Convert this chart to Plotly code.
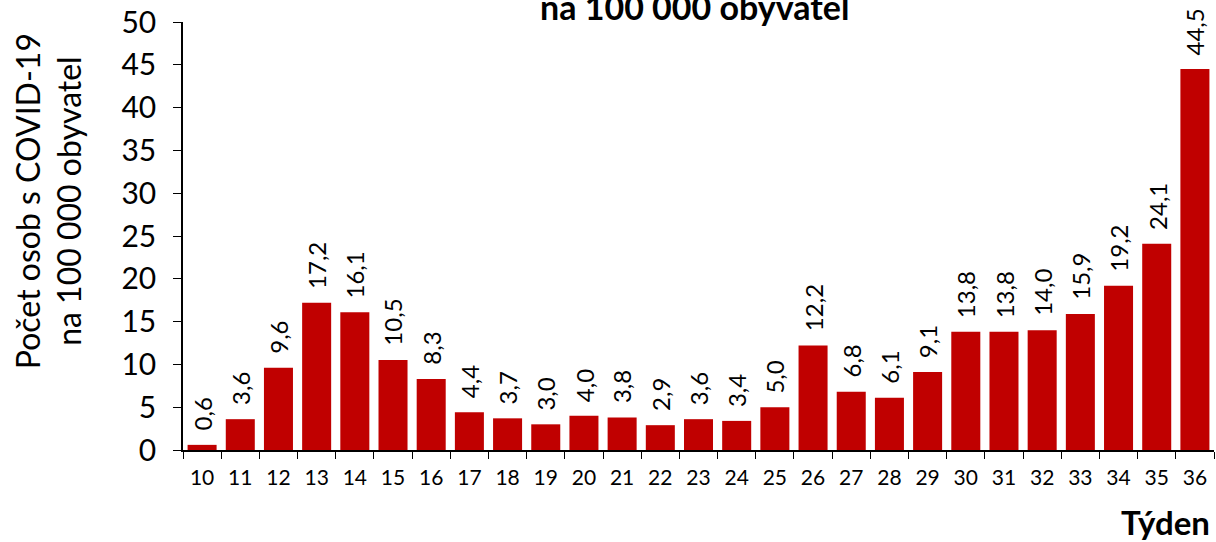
import plotly.graph_objects as go

weeks = ["10","11","12","13","14","15","16","17","18","19","20","21","22","23","24","25","26","27","28","29","30","31","32","33","34","35","36"]
values = [0.6,3.6,9.6,17.2,16.1,10.5,8.3,4.4,3.7,3.0,4.0,3.8,2.9,3.6,3.4,5.0,12.2,6.8,6.1,9.1,13.8,13.8,14.0,15.9,19.2,24.1,44.5]
labels = [f"{v:.1f}".replace(".", ",") for v in values]

FONT = "Lato, Open Sans, sans-serif"
W, H = 1216, 542
L, R, T, B = 183, 2, 20, 92

fig = go.Figure(go.Bar(
    x=weeks, y=values,
    marker=dict(color="#C00000", line=dict(width=0)),
    hoverinfo="x+y",
))
# category axis: annotation x is the category index
for i, (v, lab) in enumerate(zip(values, labels)):
    fig.add_annotation(x=i, y=v, xref="x", yref="y", text=lab, textangle=-90,
                       showarrow=False, xanchor="center", yanchor="bottom", yshift=12,
                       font=dict(size=24, family=FONT, color="black"))
fig.update_layout(
    width=W, height=H, margin=dict(l=L, r=R, t=T, b=B),
    plot_bgcolor="white", paper_bgcolor="white",
    bargap=0.24, showlegend=False,
    font=dict(family=FONT, color="black"),
)
fig.update_xaxes(type="category", range=[-0.5, len(weeks) - 0.5], tickangle=0,
                 showline=True, linecolor="black", linewidth=1.5,
                 ticks="outside", tickson="boundaries", ticklen=7, tickcolor="black",
                 tickfont=dict(size=21, family=FONT), ticklabelstandoff=8)
fig.update_yaxes(range=[0, 50], dtick=5, showgrid=False, showline=True, linecolor="black",
                 linewidth=1.5, ticks="outside", ticklen=8, tickcolor="black",
                 tickfont=dict(size=30, family=FONT), ticklabelstandoff=11, zeroline=False)
pw = W - L - R
ph = H - T - B
fig.add_annotation(text="Počet osob s COVID-19<br>na 100 000 obyvatel", textangle=-90,
                   xref="paper", yref="paper", x=(48 - L) / pw, y=(H - B - 200) / ph,
                   xanchor="center", yanchor="middle", showarrow=False,
                   font=dict(size=32, family=FONT))
fig.add_annotation(text="<b>na 100 000 obyvatel</b>", xref="paper", yref="paper",
                   x=(694 - L) / pw, y=(H - B - 4) / ph, xanchor="center", yanchor="middle",
                   showarrow=False, font=dict(size=34, family=FONT))
fig.add_annotation(text="<b>Týden</b>", xref="paper", yref="paper",
                   x=(1212 - L) / pw, y=(H - B - 522) / ph, xanchor="right", yanchor="middle",
                   showarrow=False, font=dict(size=33, family=FONT))
fig.write_html("out.html", config={"displayModeBar": False},
               post_script="document.body.style.margin='0';document.body.style.overflow='hidden';")
